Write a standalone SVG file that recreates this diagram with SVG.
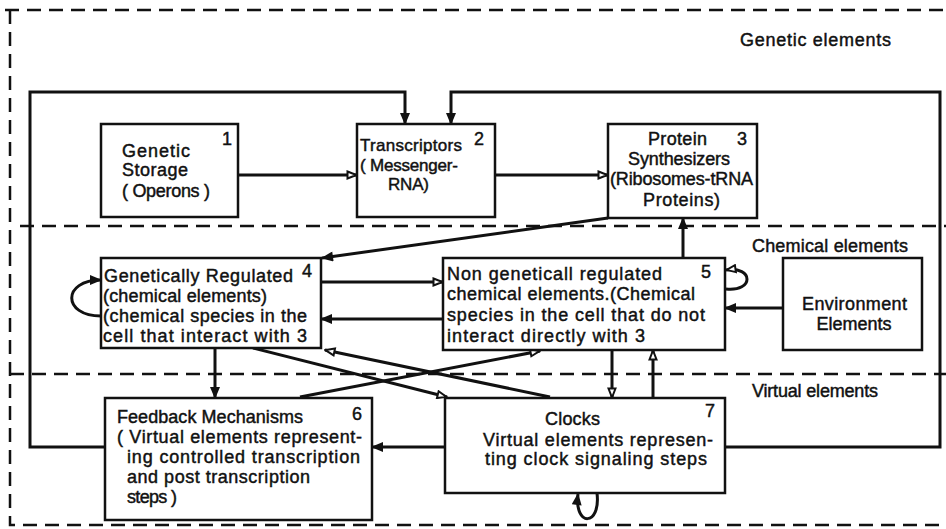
<svg xmlns="http://www.w3.org/2000/svg" width="946" height="529" viewBox="0 0 946 529">
  <style>
    text { font-family: "Liberation Sans", Arial, sans-serif; font-size: 18px; fill: #111; stroke: #111; stroke-width: 0.45; }
    .small { font-size: 17px; }
    .box { fill: #fff; stroke: #111; stroke-width: 2.5; }
    .zone { fill: none; stroke: #111; stroke-width: 2.5; stroke-dasharray: 14 8; }
    .wire { fill: none; stroke: #111; stroke-width: 3; }
    .solid { marker-end: url(#head); }
    .open { marker-end: url(#hollow); }
  </style>
  <defs>
    <marker id="head" viewBox="0 0 12 10" refX="11" refY="5" markerWidth="13" markerHeight="10" markerUnits="userSpaceOnUse" orient="auto">
      <path d="M0,0 L12,5 L0,10 z" fill="#111"/>
    </marker>
    <marker id="hollow" viewBox="0 0 12 10" refX="11" refY="5" markerWidth="12" markerHeight="10" markerUnits="userSpaceOnUse" orient="auto">
      <path d="M1.5,1.5 L10.5,5 L1.5,8.5 z" fill="#fff" stroke="#111" stroke-width="2"/>
    </marker>
  </defs>

  <rect width="946" height="529" fill="#fff"/>

  <!-- zone boundaries -->
  <g id="zones">
    <path class="zone" d="M5,10 H946"/>
    <path class="zone" d="M10,10 V525 H946"/>
    <path class="zone" d="M20,226 H946"/>
    <path class="zone" d="M10,374 H946"/>
    <text x="740" y="46" textLength="151" lengthAdjust="spacing">Genetic elements</text>
    <text x="752" y="252" textLength="156" lengthAdjust="spacing">Chemical elements</text>
    <text x="752" y="397" textLength="126" lengthAdjust="spacing">Virtual elements</text>
  </g>

  <!-- connectors -->
  <g id="connectors">
    <path class="wire solid" d="M106,447 H30 V92 H405 V124"/>
    <path class="wire solid" d="M725,447 H940 V92 H451 V124"/>
    <path class="wire open" d="M238,175 H357"/>
    <path class="wire open" d="M495,175 H608"/>
    <path class="wire solid" d="M608,218 L322,258"/>
    <path class="wire solid" d="M683,258 V218"/>
    <path class="wire open" d="M321,282 H443"/>
    <path class="wire solid" d="M443,319 H321"/>
    <path class="wire solid" d="M783,308 H725"/>
    <path class="wire solid" d="M101,316 C62,316 62,280 101,280"/>
    <path class="wire open" d="M726,289 C754,292 754,266 726,270"/>
    <path class="wire solid" d="M215,348 V398"/>
    <path class="wire open" d="M612,350 V398"/>
    <path class="wire open" d="M653,398 V350"/>
    <path class="wire solid" d="M445,447 H372"/>
    <path class="wire open" d="M253,348 L447,397"/>
    <path class="wire open" d="M550,397 L325,350"/>
    <path class="wire open" d="M300,397 L540,351"/>
    <path class="wire solid" d="M597,493 C601,527 574,527 578,494"/>
  </g>

  <g id="n1">
    <rect class="box" x="101" y="124" width="137" height="93"/>
    <text x="122" y="157" textLength="68" lengthAdjust="spacing">Genetic</text>
    <text x="122" y="176" textLength="66" lengthAdjust="spacing">Storage</text>
    <text x="122" y="197" textLength="88" lengthAdjust="spacing">( Operons )</text>
    <text x="222" y="145">1</text>
  </g>

  <g id="n2">
    <rect class="box" x="357" y="124" width="138" height="93"/>
    <text class="small" x="360" y="151" textLength="102" lengthAdjust="spacing">Transcriptors</text>
    <text class="small" x="360" y="171" textLength="98" lengthAdjust="spacing">( Messenger-</text>
    <text class="small" x="388" y="190" textLength="41" lengthAdjust="spacing">RNA)</text>
    <text x="474" y="145">2</text>
  </g>

  <g id="n3">
    <rect class="box" x="608" y="124" width="149" height="94"/>
    <text x="648" y="145" textLength="59" lengthAdjust="spacing">Protein</text>
    <text x="628" y="165" textLength="102" lengthAdjust="spacing">Synthesizers</text>
    <text x="610" y="185" textLength="143" lengthAdjust="spacing">(Ribosomes-tRNA</text>
    <text x="643" y="206" textLength="77" lengthAdjust="spacing">Proteins)</text>
    <text x="737" y="145">3</text>
  </g>

  <g id="n4">
    <rect class="box" x="101" y="258" width="220" height="90"/>
    <text x="104" y="282" textLength="189" lengthAdjust="spacing">Genetically Regulated</text>
    <text x="103" y="302" textLength="164" lengthAdjust="spacing">(chemical elements)</text>
    <text x="103" y="322" textLength="204" lengthAdjust="spacing">(chemical species in the</text>
    <text x="103" y="342" textLength="204" lengthAdjust="spacing">cell that interact with 3</text>
    <text x="302" y="277">4</text>
  </g>

  <g id="n5">
    <rect class="box" x="443" y="258" width="282" height="92"/>
    <text x="447" y="280" textLength="215" lengthAdjust="spacing">Non geneticall regulated</text>
    <text x="447" y="300" textLength="248" lengthAdjust="spacing">chemical elements.(Chemical</text>
    <text x="447" y="321" textLength="258" lengthAdjust="spacing">species in the cell that do not</text>
    <text x="447" y="342" textLength="198" lengthAdjust="spacing">interact directly with 3</text>
    <text x="701" y="278">5</text>
  </g>

  <g id="env">
    <rect class="box" x="783" y="258" width="139" height="92"/>
    <text x="802" y="310" textLength="105" lengthAdjust="spacing">Environment</text>
    <text x="854" y="330" text-anchor="middle">Elements</text>
  </g>

  <g id="n6">
    <rect class="box" x="105" y="398" width="267" height="122"/>
    <text x="117" y="423" textLength="186" lengthAdjust="spacing">Feedback Mechanisms</text>
    <text x="117" y="443" textLength="245" lengthAdjust="spacing">( Virtual elements represent-</text>
    <text x="127" y="463" textLength="233" lengthAdjust="spacing">ing controlled transcription</text>
    <text x="127" y="483" textLength="183" lengthAdjust="spacing">and post transcription</text>
    <text x="127" y="503" textLength="50" lengthAdjust="spacing">steps )</text>
    <text x="352" y="420">6</text>
  </g>

  <g id="n7">
    <rect class="box" x="445" y="398" width="280" height="95"/>
    <text x="545" y="425" textLength="55" lengthAdjust="spacing">Clocks</text>
    <text x="483" y="446" textLength="230" lengthAdjust="spacing">Virtual elements represen-</text>
    <text x="485" y="465" textLength="222" lengthAdjust="spacing">ting clock signaling steps</text>
    <text x="705" y="417">7</text>
  </g>
</svg>
